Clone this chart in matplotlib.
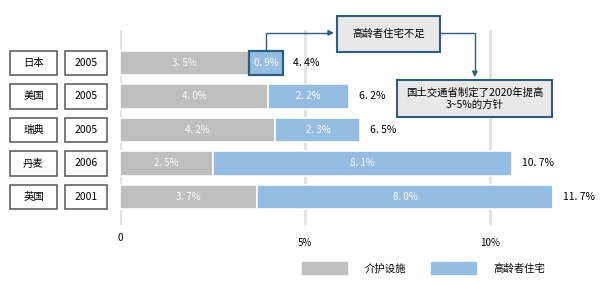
import matplotlib.pyplot as plt
from matplotlib.patches import Rectangle, Patch
from matplotlib.transforms import blended_transform_factory

plt.rcParams['font.family'] = ['Noto Sans CJK SC', 'DejaVu Sans']

countries = ["日本", "美国", "瑞典", "丹麦", "英国"]
years = ["2005", "2005", "2005", "2006", "2001"]
care = [3.5, 4.0, 4.2, 2.5, 3.7]
elderly = [0.9, 2.2, 2.3, 8.1, 8.0]
care_labels = ["3. 5%", "4. 0%", "4. 2%", "2. 5%", "3. 7%"]
elderly_labels = ["0. 9%", "2. 2%", "2. 3%", "8. 1%", "8. 0%"]
total_labels = ["4. 4%", "6. 2%", "6. 5%", "10. 7%", "11. 7%"]
xticks = [0, 5, 10]
xtick_labels = ["0", "5%", "10%"]
legend_names = ["介护设施", "高龄者住宅"]
note1 = "高龄者住宅不足"
note2 = "国土交通省制定了2020年提高\n3~5%的方针"

GRAY = "#bfbfbf"
BLUE = "#95bde2"
EDGE = "#2f5d7c"

fig = plt.figure(figsize=(6, 2.83), dpi=100)
ax = fig.add_axes([0.2, 1 - 225 / 283, 0.8, 195 / 283])
ax.set_xlim(0, 480 / 37)
ax.set_ylim(4.836, -0.985)
ax.axis("off")

for v in xticks:
    ax.axvline(v, color="#e3e3e3", lw=2.2, zorder=0)

y = range(len(countries))
h = 0.72
ax.barh(y, care, height=h, color=GRAY, edgecolor="white", lw=1.2, zorder=2)
b2 = ax.barh(y, elderly, left=care, height=h, color=BLUE, edgecolor="white", lw=1.2, zorder=2)
b2[0].set_edgecolor(EDGE)
b2[0].set_linewidth(1.6)
b2[0].set_zorder(3)

for i in y:
    ax.text(care[i] / 2, i, care_labels[i], color="white", ha="center", va="center", fontsize=7)
    ax.text(care[i] + elderly[i] / 2, i, elderly_labels[i], color="white",
            ha="center", va="center", fontsize=7, zorder=4)
    ax.annotate(total_labels[i], (care[i] + elderly[i], i), xytext=(7, 0),
                textcoords="offset points", ha="left", va="center", fontsize=7.5)

# left label boxes
bt = blended_transform_factory(fig.transFigure, ax.transData)
for i in y:
    for (x0, w, txt) in [(10 / 600, 47 / 600, countries[i]), (65 / 600, 42 / 600, years[i])]:
        ax.add_patch(Rectangle((x0, i - h / 2), w, h, transform=bt, fill=False,
                               ec="#555555", lw=1.1, clip_on=False))
        ax.text(x0 + w / 2, i, txt, transform=bt, ha="center", va="center", fontsize=7.5)

# x tick labels
xt = ax.get_xaxis_transform()
for v, lab in zip(xticks, xtick_labels):
    yy = 238 if v == 0 else 243
    ax.text(v, 1 - (yy - 30) / 195, lab, transform=xt, ha="center", va="center", fontsize=7)

# annotation boxes
ax.add_patch(Rectangle((5.86, -0.33), 2.79, -1.07, fc="#e8e8e8", ec=EDGE, lw=1.5,
                       clip_on=False, zorder=5))
ax.text(7.255, -0.865, note1, ha="center", va="center", fontsize=7.5, zorder=6)
ax.add_patch(Rectangle((7.49, 0.507), 4.19, 1.10, fc="#e8e8e8", ec=EDGE, lw=1.5,
                       clip_on=False, zorder=5))
ax.text(9.585, 1.06, note2, ha="center", va="center", fontsize=7.5, linespacing=1.2, zorder=6)

jx = care[0] + elderly[0] / 2
ax.plot([jx, jx, 5.6], [-h / 2, -0.9, -0.9], color=EDGE, lw=1, clip_on=False)
ax.annotate("", xy=(5.86, -0.9), xytext=(5.55, -0.9),
            arrowprops=dict(arrowstyle="-|>", color=EDGE, lw=1, mutation_scale=8),
            annotation_clip=False)
ax.plot([8.65, 9.59, 9.59], [-0.9, -0.9, 0.3], color=EDGE, lw=1, clip_on=False)
ax.annotate("", xy=(9.59, 0.507), xytext=(9.59, 0.2),
            arrowprops=dict(arrowstyle="-|>", color=EDGE, lw=1, mutation_scale=8),
            annotation_clip=False)

handles = [Patch(color=GRAY), Patch(color=BLUE)]
fig.legend(handles, legend_names, loc="center", bbox_to_anchor=(0.706, 1 - 268 / 283),
           ncol=2, frameon=False, fontsize=7.5, handlelength=4.3, handleheight=1.3,
           handletextpad=1.7, columnspacing=2.4)

fig.savefig("out.png", dpi=100, facecolor="white")
